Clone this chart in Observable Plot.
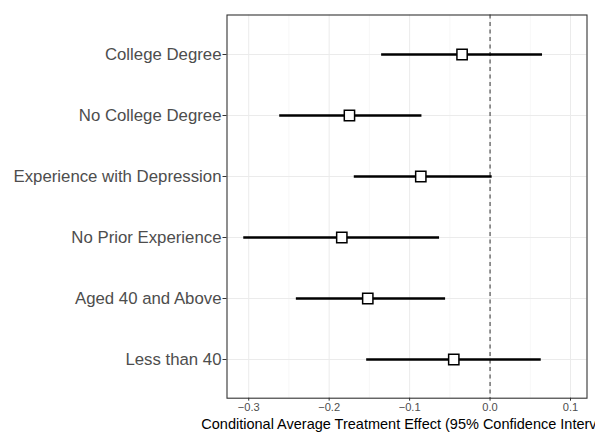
<!DOCTYPE html>
<html>
<head>
<meta charset="utf-8">
<script src="https://cdn.jsdelivr.net/npm/d3@7"></script>
<script src="https://cdn.jsdelivr.net/npm/@observablehq/plot@0.6"></script>
<style>
  html, body { margin: 0; background: #fff; overflow: hidden; }
  svg { font-family: "Liberation Sans", Arial, sans-serif; overflow: hidden !important; display: block; }
</style>
</head>
<body>
<div id="chart"></div>
<script>
const groups = ["College Degree", "No College Degree", "Experience with Depression", "No Prior Experience", "Aged 40 and Above", "Less than 40"];
const estimate = [-0.0348, -0.1748, -0.0861, -0.1843, -0.152, -0.0451];
const lower = [-0.1354, -0.2621, -0.1694, -0.3068, -0.2414, -0.154];
const upper = [0.0646, -0.0853, 0.002, -0.0634, -0.0559, 0.063];
const xTicks = [-0.3, -0.2, -0.1, 0.0, 0.1];
const xMinor = [-0.25, -0.15, -0.05, 0.05];
const xLabel = "Conditional Average Treatment Effect (95% Confidence Interval)";

const data = groups.map((g, i) => ({group: g, est: estimate[i], lo: lower[i], hi: upper[i]}));
const fmt = d => d.toFixed(1).replace("-", "\u2212");

const plot = Plot.plot({
  width: 595,
  height: 432,
  marginLeft: 226.5,
  marginRight: 8.5,
  marginTop: 14.5,
  marginBottom: 34.3,
  style: {fontFamily: "'Liberation Sans', Arial, sans-serif", background: "#fff", overflow: "hidden"},
  x: {domain: [-0.327, 0.1205], ticks: xTicks, tickFormat: fmt},
  y: {type: "point", domain: groups, padding: 0.6},
  marks: [
    Plot.ruleX(xMinor, {stroke: "#f4f4f4", strokeWidth: 0.7}),
    Plot.ruleY(groups, {y: d => d, stroke: "#ebebeb", strokeWidth: 1}),
    Plot.ruleX(xTicks, {stroke: "#ebebeb", strokeWidth: 1}),
    Plot.ruleX([0], {stroke: "#444", strokeWidth: 1.1, strokeDasharray: "4,3.5"}),
    Plot.link(data, {x1: "lo", x2: "hi", y1: "group", y2: "group", stroke: "#000", strokeWidth: 2.6}),
    Plot.dot(data, {x: "est", y: "group", symbol: "square", r: 5.8, fill: "#fff", stroke: "#000", strokeWidth: 1.5}),
    Plot.frame({stroke: "#333", strokeWidth: 1.1}),
    Plot.axisX({ticks: xTicks, tickSize: 3, tickPadding: 2, stroke: "#333", fill: "#4d4d4d", fontSize: 11.1, label: null, tickFormat: fmt}),
    Plot.axisY({tickSize: 4, tickPadding: 1.5, stroke: "#333", fill: "#4d4d4d", fontSize: 16.8, label: null}),
    Plot.text([xLabel], {text: d => d, frameAnchor: "bottom", x: () => (-0.327 + 0.1205) / 2, dy: 31, fontSize: 14.5, fill: "#000", lineAnchor: "bottom", textAnchor: "middle"})
  ]
});
document.getElementById("chart").appendChild(plot);
</script>
</body>
</html>
